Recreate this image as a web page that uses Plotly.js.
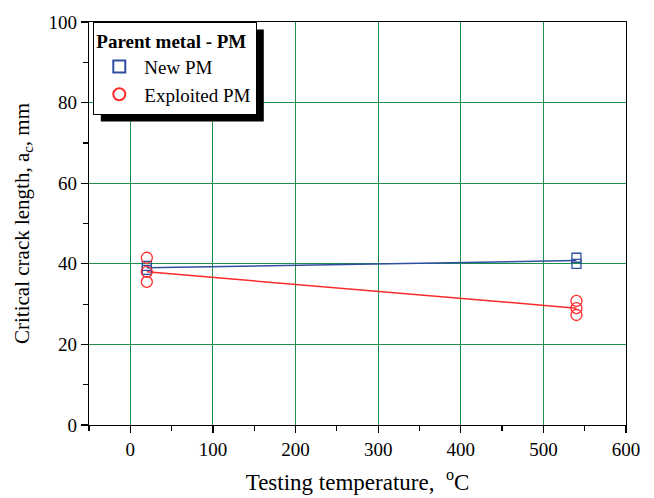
<!DOCTYPE html>
<html><head><meta charset="utf-8">
<script src="https://cdn.plot.ly/plotly-3.0.1.min.js"></script>
<style>html,body{margin:0;padding:0;background:#fff}</style>
</head><body>
<div id="chart" style="width:654px;height:498px"></div>
<script>
// Data
var newPM_T = [20, 20, 540, 540];
var newPM_a = [39.5, 38.5, 41.5, 40.0];
var expPM_T = [20, 20, 20, 540, 540, 540];
var expPM_a = [41.5, 38.0, 35.5, 30.8, 29.0, 27.3];
var newPM_lineT = [20, 540];
var newPM_lineA = [39.0, 40.8];
var expPM_lineT = [20, 540];
var expPM_lineA = [38.0, 29.0];
var xTickVals = [0, 100, 200, 300, 400, 500, 600];
var yTickVals = [0, 20, 40, 60, 80, 100];

var blue = '#2f4f9f', red = '#ff2a2a';
var font = 'Liberation Serif';

var traces = [
  {x: newPM_lineT, y: newPM_lineA, mode: 'lines', line: {color: blue, width: 1.5}, showlegend: false, hoverinfo: 'skip'},
  {x: expPM_lineT, y: expPM_lineA, mode: 'lines', line: {color: red, width: 1.5}, showlegend: false, hoverinfo: 'skip'},
  {x: newPM_T, y: newPM_a, mode: 'markers', name: 'New PM',
   marker: {symbol: 'square-open', size: 9, color: blue, line: {width: 1.3}}},
  {x: expPM_T, y: expPM_a, mode: 'markers', name: 'Exploited PM',
   marker: {symbol: 'circle-open', size: 11, color: red, line: {width: 1.3}}}
];

var grid = '#1f8f4f';
var layout = {
  width: 654, height: 498,
  margin: {l: 89, r: 28, t: 22, b: 73},
  paper_bgcolor: '#fff', plot_bgcolor: '#fff',
  font: {family: font, size: 19, color: '#000'},
  showlegend: true,
  xaxis: {
    range: [-50, 600], tickvals: xTickVals, ticktext: xTickVals.map(String),
    showgrid: true, gridcolor: grid, gridwidth: 1, zeroline: false,
    showline: true, mirror: true, linecolor: '#000', linewidth: 1.2,
    ticks: 'outside', ticklen: 7, tickcolor: '#000', tickwidth: 1.2,
    minor: {dtick: 50, tick0: -50, ticklen: 5, ticks: 'outside', tickcolor: '#000', showgrid: false},
    tickfont: {family: font, size: 19},
    title: {text: 'Testing temperature,  <sup>o</sup>C', font: {family: font, size: 23}, standoff: 14}
  },
  yaxis: {
    range: [0, 100], tickvals: yTickVals, ticktext: yTickVals.map(String),
    showgrid: true, gridcolor: grid, gridwidth: 1, zeroline: false,
    showline: true, mirror: true, linecolor: '#000', linewidth: 1.2,
    ticks: 'outside', ticklen: 7, tickcolor: '#000', tickwidth: 1.2,
    minor: {dtick: 10, ticklen: 5, ticks: 'outside', tickcolor: '#000', showgrid: false},
    tickfont: {family: font, size: 19},
    title: {text: 'Critical crack length, a<sub>c</sub>, mm', font: {family: font, size: 21}, standoff: 13}
  },
  legend: {
    x: 0.008, y: 1.0, xanchor: 'left', yanchor: 'top',
    bgcolor: '#fff', bordercolor: '#000', borderwidth: 1,
    font: {family: font, size: 19},
    title: {text: '<b>Parent metal - PM</b>', font: {family: font, size: 19}},
    tracegroupgap: 0, itemsizing: 'constant', itemwidth: 40
  },
  shapes: []
};

var gd = document.getElementById('chart');
Plotly.newPlot(gd, traces, layout, {displayModeBar: false, staticPlot: true}).then(function () {
  var bg = gd.querySelector('.legend .bg');
  if (!bg) return;
  var r = bg.getBoundingClientRect(), c = gd.getBoundingClientRect();
  var L = 89, T = 22, W = 654 - 89 - 28, H = 498 - 22 - 73;
  var off = 7;
  var x0 = (r.left - c.left + off - L) / W, x1 = (r.right - c.left + off - L) / W;
  var y1 = 1 - (r.top - c.top + off - T) / H, y0 = 1 - (r.bottom - c.top + off - T) / H;
  return Plotly.relayout(gd, {shapes: [{type: 'rect', xref: 'paper', yref: 'paper', layer: 'above',
    x0: x0, x1: x1, y0: y0, y1: y1, fillcolor: '#000', line: {width: 0}}]});
});
</script>
</body></html>
